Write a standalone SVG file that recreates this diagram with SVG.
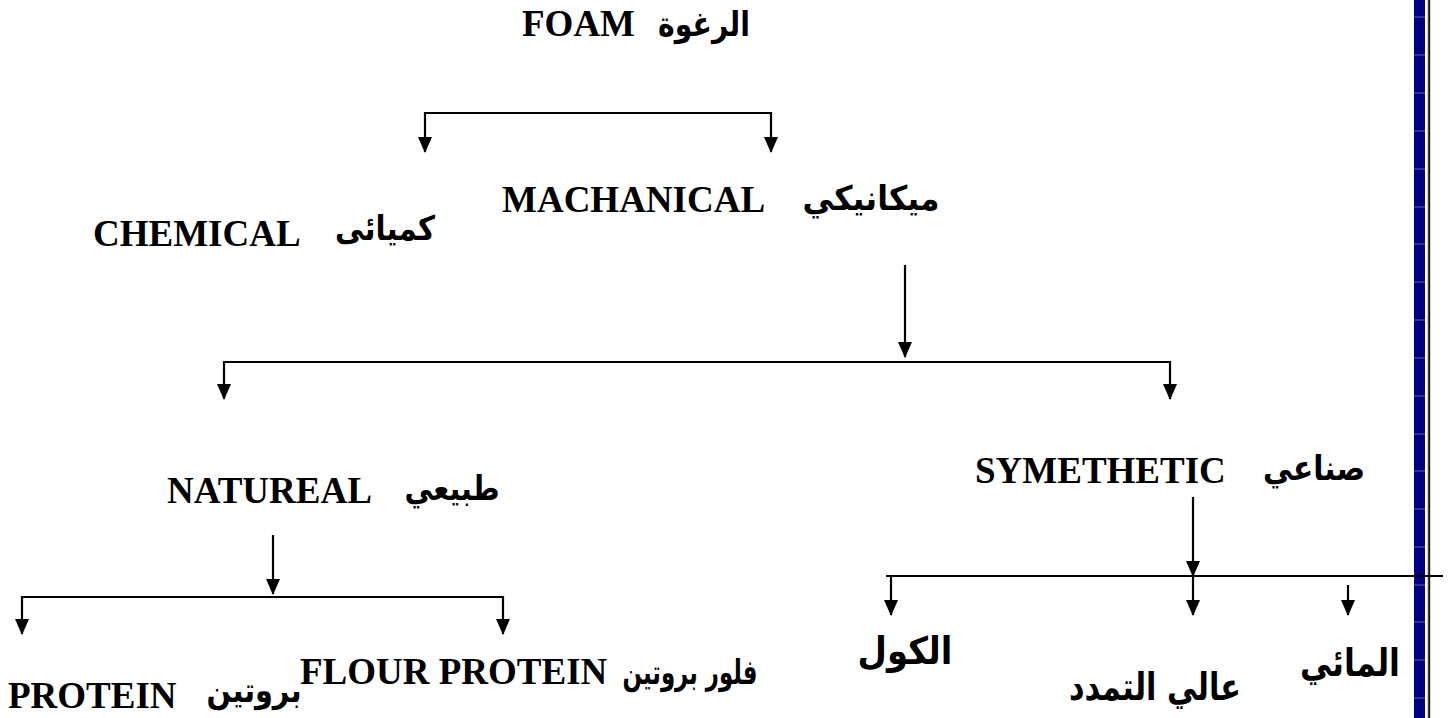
<svg xmlns="http://www.w3.org/2000/svg" width="1451" height="718" viewBox="0 0 1451 718">
<style>
.en{font-family:"Liberation Serif","Times New Roman",serif;font-weight:bold;font-size:37px;fill:#000}
.ar{font-family:"DejaVu Sans","Noto Sans",sans-serif;font-weight:bold;font-size:34px;fill:#000}
.arb{font-family:"DejaVu Sans","Noto Sans",sans-serif;font-weight:bold;font-size:38px;fill:#000}
.c{fill:none;stroke:#000;stroke-width:2.2}
.a{marker-end:url(#ah)}
.b{marker-start:url(#ah);marker-end:url(#ah)}
.sep{stroke:#5a64b4;stroke-width:1}
</style>
<defs>
<marker id="ah" viewBox="0 0 16 14" refX="15" refY="7" markerWidth="16" markerHeight="14" markerUnits="userSpaceOnUse" orient="auto-start-reverse">
<path d="M0,0 L16,7 L0,14 z" fill="#000"/>
</marker>
</defs>
<rect width="1451" height="718" fill="#fff"/>
<g id="frame">
<rect x="1414" y="0" width="11" height="718" fill="#000080"/>
<g class="sep">
<line x1="1414" y1="17" x2="1425" y2="17"/><line x1="1414" y1="55" x2="1425" y2="55"/><line x1="1414" y1="93" x2="1425" y2="93"/><line x1="1414" y1="131" x2="1425" y2="131"/><line x1="1414" y1="169" x2="1425" y2="169"/><line x1="1414" y1="207" x2="1425" y2="207"/><line x1="1414" y1="244" x2="1425" y2="244"/><line x1="1414" y1="282" x2="1425" y2="282"/><line x1="1414" y1="320" x2="1425" y2="320"/><line x1="1414" y1="358" x2="1425" y2="358"/><line x1="1414" y1="396" x2="1425" y2="396"/><line x1="1414" y1="434" x2="1425" y2="434"/><line x1="1414" y1="471" x2="1425" y2="471"/><line x1="1414" y1="509" x2="1425" y2="509"/><line x1="1414" y1="547" x2="1425" y2="547"/><line x1="1414" y1="585" x2="1425" y2="585"/><line x1="1414" y1="622" x2="1425" y2="622"/><line x1="1414" y1="660" x2="1425" y2="660"/><line x1="1414" y1="698" x2="1425" y2="698"/>
</g>
<rect x="1427" y="0" width="4" height="718" fill="#d0d0d0"/>
<rect x="1428.3" y="0" width="1.6" height="718" fill="#000"/>
</g>
<g id="connectors">
<path class="c b" d="M425,152 V113 H771 V152"/>
<path class="c a" d="M905,265 V357"/>
<path class="c b" d="M224,399 V362 H1170 V399"/>
<path class="c a" d="M273,535 V594"/>
<path class="c b" d="M22,634 V597 H503 V634"/>
<path class="c a" d="M1193,497 V576"/>
<path class="c" d="M886,576 H1443"/>
<path class="c a" d="M891,576 V615"/>
<path class="c a" d="M1193,576 V615"/>
<path class="c a" d="M1348,585 V615"/>
</g>
<g id="foam"><text class="en" x="522" y="36">FOAM</text><text class="ar" x="704" y="36" text-anchor="middle" textLength="92" lengthAdjust="spacingAndGlyphs">الرغوة</text></g>
<g id="mechanical"><text class="en" x="502" y="212">MACHANICAL</text><text class="ar" x="871" y="210" text-anchor="middle" textLength="137" lengthAdjust="spacingAndGlyphs">ميكانيكي</text></g>
<g id="chemical"><text class="en" x="93" y="246">CHEMICAL</text><text class="ar" x="385" y="240" text-anchor="middle" textLength="100" lengthAdjust="spacingAndGlyphs">كميائى</text></g>
<g id="natural"><text class="en" x="167" y="503">NATUREAL</text><text class="ar" x="452" y="500" text-anchor="middle" textLength="95" lengthAdjust="spacingAndGlyphs">طبيعي</text></g>
<g id="synthetic"><text class="en" x="975" y="483">SYMETHETIC</text><text class="ar" x="1314" y="480" text-anchor="middle" textLength="102" lengthAdjust="spacingAndGlyphs">صناعي</text></g>
<g id="protein"><text class="en" x="8" y="708">PROTEIN</text><text class="ar" x="254" y="702" text-anchor="middle" textLength="95" lengthAdjust="spacingAndGlyphs">بروتين</text></g>
<g id="flour"><text class="en" x="300" y="684">FLOUR PROTEIN</text><text class="ar" x="690" y="684" text-anchor="middle" textLength="135" lengthAdjust="spacingAndGlyphs">فلور بروتين</text></g>
<g id="alcohol"><text class="arb" x="905" y="664" text-anchor="middle" textLength="95" lengthAdjust="spacingAndGlyphs">الكول</text></g>
<g id="high"><text class="arb" x="1155" y="700" text-anchor="middle" textLength="172" lengthAdjust="spacingAndGlyphs">عالي التمدد</text></g>
<g id="water"><text class="arb" x="1350" y="676" text-anchor="middle" textLength="100" lengthAdjust="spacingAndGlyphs">المائي</text></g>
</svg>
